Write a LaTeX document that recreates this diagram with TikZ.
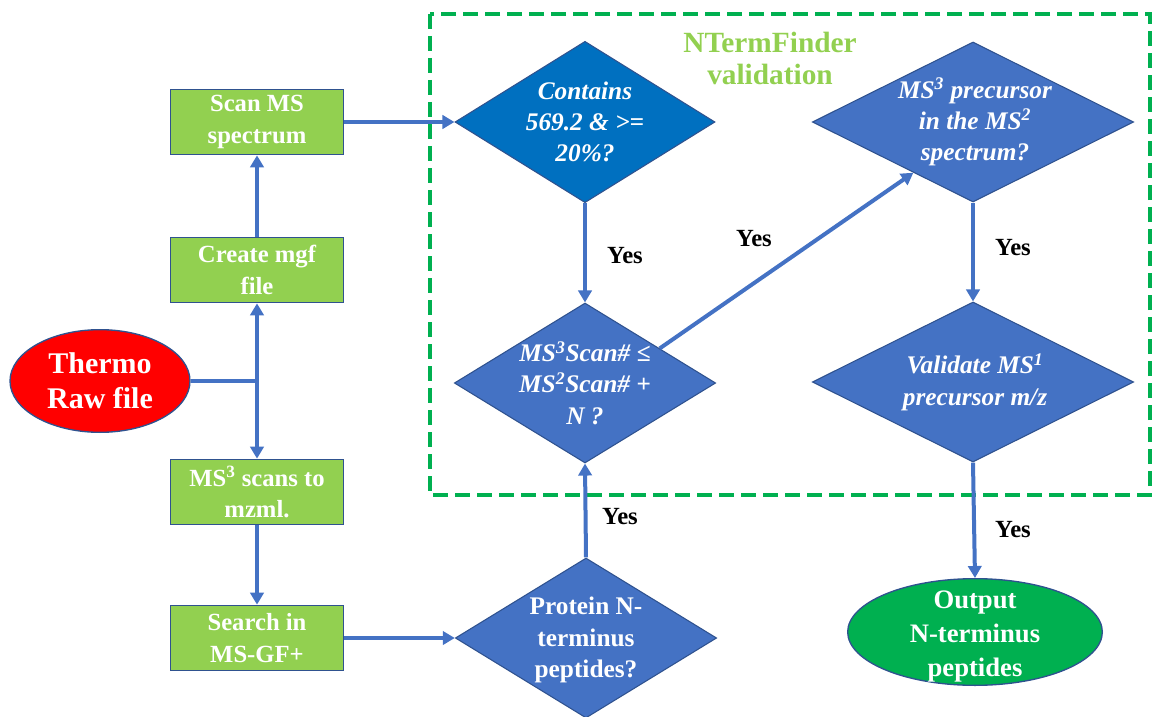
\documentclass[tikz,border=0pt]{standalone}
\usepackage{fontspec}
\setmainfont{Liberation Serif}
\usetikzlibrary{shapes.geometric,arrows.meta,calc}
\definecolor{lgreen}{HTML}{92D050}
\definecolor{dgreen}{HTML}{00B050}
\definecolor{dblue}{HTML}{4472C4}
\definecolor{mblue}{HTML}{0070C0}
\definecolor{edgeblue}{HTML}{2F528F}
\tikzset{
  procbox/.style={draw=edgeblue,line width=1pt,fill=lgreen,text=white,minimum width=130pt,minimum height=49pt,inner sep=0pt,align=center,font=\fontsize{18.5}{23.5}\selectfont\bfseries},
  decshape/.style={draw=edgeblue,line width=0.8pt,fill=dblue,diamond,inner sep=0pt},
  dectext/.style={text=white,align=center,font=\fontsize{19}{23.5}\selectfont\bfseries\itshape},
  conn/.style={draw=dblue,line width=3pt},
  arr/.style={conn,-{Triangle[length=9pt,width=10pt]}},
  yeslabel/.style={font=\fontsize{18.5}{22}\selectfont\bfseries,text=black},
}
\begin{document}
\begin{tikzpicture}[x=0.75pt,y=-0.75pt]
\useasboundingbox (0,0) rectangle (1154,717);
% dashed frame
\draw[dgreen,line width=2.5pt,dash pattern=on 11pt off 5.5pt] (430,14) rectangle (1150,495);
\node[text=lgreen,align=center,font=\fontsize{22}{24}\selectfont\bfseries] (title) at (770,58) {NTermFinder\\validation};
% process boxes
\node[procbox] (scan) at (257,122) {Scan MS\\spectrum};
\node[procbox] (mgf) at (257,270) {Create mgf\\file};
\node[procbox] (ms3) at (257,492) {MS\textsuperscript{3} scans to\\mzml.};
\node[procbox] (search) at (257,638) {Search in\\MS-GF+};
% ellipses
\node[ellipse,draw=edgeblue,line width=1pt,fill=red,minimum width=135pt,minimum height=77pt,inner sep=0pt,text=white,align=center,font=\fontsize{22.5}{26}\selectfont\bfseries] (thermo) at (100,381) {Thermo\\Raw file};
\node[ellipse,draw=edgeblue,line width=1pt,fill=dgreen,minimum width=191pt,minimum height=80pt,inner sep=0pt] (out) at (975,632) {};
\node[text=white,align=center,font=\fontsize{20}{25.5}\selectfont\bfseries] (outt) at (975,637) {Output\\N-terminus\\peptides};
% diamonds
\node[decshape,fill=mblue,minimum width=195pt,minimum height=121pt] (d1) at (585,122) {};
\node[dectext] (d1t) at (585,122) {Contains\\569.2 \& >=\\20\%?};
\node[decshape,minimum width=196pt,minimum height=120pt] (d2) at (585,383) {};
\node[dectext] (d2t) at (585,383) {MS\textsuperscript{3}Scan\# ≤\\MS\textsuperscript{2}Scan\# +\\N ?};
\node[decshape,minimum width=241pt,minimum height=120pt] (d3) at (973,122) {};
\node[dectext] (d3t) at (975,122) {MS\textsuperscript{3} precursor\\in the MS\textsuperscript{2}\\spectrum?};
\node[decshape,minimum width=241pt,minimum height=120pt] (d4) at (973,382) {};
\node[dectext] (d4t) at (975,382) {Validate MS\textsuperscript{1}\\precursor m/z};
\node[decshape,minimum width=196pt,minimum height=120pt] (prot) at (586,638) {};
\node[dectext,font=\fontsize{19}{23.5}\selectfont\bfseries] (prott) at (586,640) {Protein N-\\terminus\\peptides?};
% connectors
\coordinate (junc) at (257,381);
\draw[conn] (thermo.east) -- (junc);
\draw[arr] (junc) -- (mgf.south);
\draw[arr] (junc) -- (ms3.north);
\draw[arr] (mgf.north) -- (scan.south);
\draw[arr] (ms3.south) -- (search.north);
\draw[arr] (scan.east) -- (d1.west);
\draw[arr] (search.east) -- (prot.west);
\draw[arr] (d1.south) -- (d2.north);
\draw[arr] ($(d2.north)!0.57!(d2.east)$) -- ($(d3.west)!0.63!(d3.south)$);
\draw[arr] (d3.south) -- (d4.north);
\draw[arr] (d4.south) -- (out.north);
\draw[arr] (prot.north) -- (d2.south);
% labels
\node[yeslabel] (y1) at (625,256) {Yes};
\node[yeslabel] (y2) at (754,239) {Yes};
\node[yeslabel] (y3) at (1013,248) {Yes};
\node[yeslabel] (y4) at (620,517) {Yes};
\node[yeslabel] (y5) at (1013,530) {Yes};
\end{tikzpicture}
\end{document}
